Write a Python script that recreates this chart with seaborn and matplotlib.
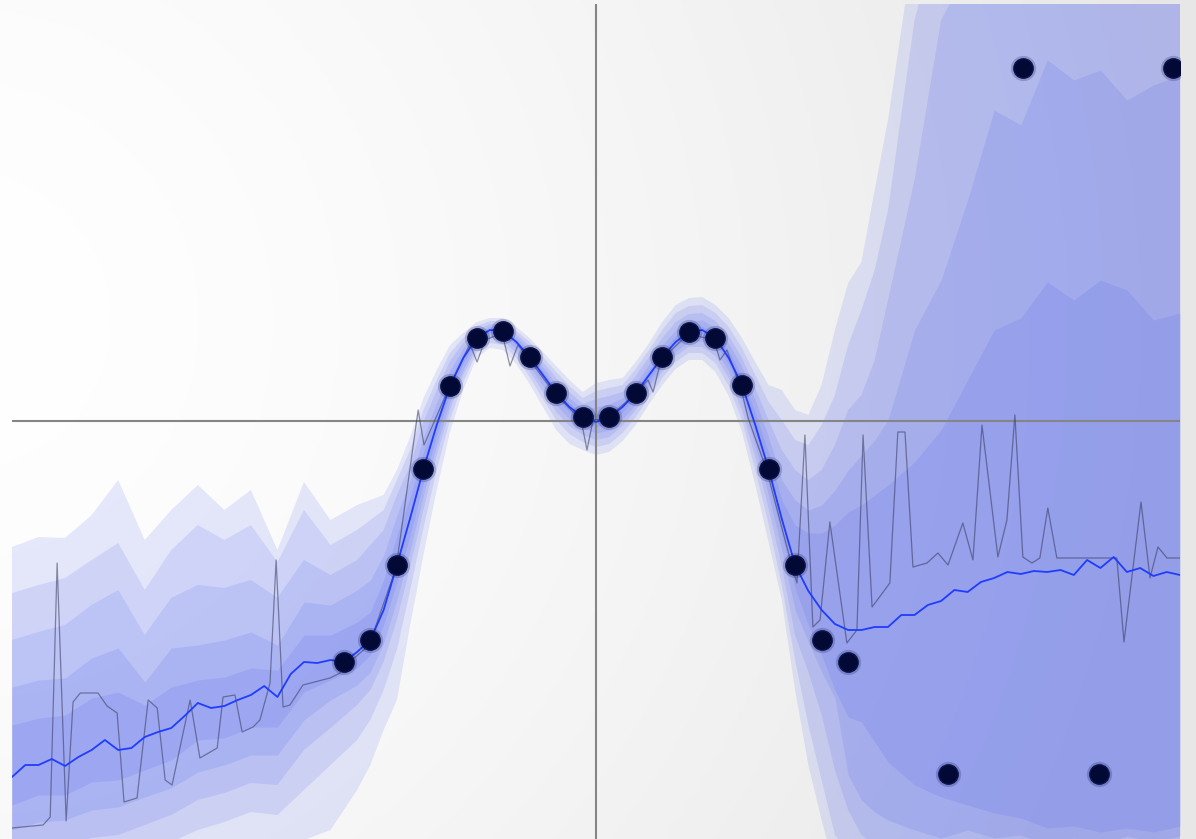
import numpy as np
import pandas as pd
import matplotlib
matplotlib.use("Agg")
import matplotlib.pyplot as plt
import seaborn as sns

# x positions of the band boundaries (coarse at the edges, finer in the middle)
band_x = list(range(-22, -8)) + [k / 2 for k in range(-17, 23)] + list(range(12, 23))

# quantile band boundaries, outermost (1) to innermost (5)
upper_1 = [-1.26, -1.16, -1.17, -0.94, -0.59, -1.19, -0.89, -0.64, -0.89, -0.69, -1.29, -0.61, -0.99, -0.84,
           -0.79, -0.74, -0.49, -0.16, 0.23, 0.51, 0.76, 0.88, 0.99, 1.03, 1.03, 0.94, 0.83, 0.69, 0.55, 0.41,
           0.29, 0.38, 0.41, 0.43, 0.59, 0.78, 0.99, 1.16, 1.23, 1.24, 1.16, 1.03, 0.83, 0.59, 0.36, 0.31,
           0.11, 0.06, 0.36, 0.91, 1.38, 1.59, 2.31, 3.01,
           4.81, 5.71, 6.21, 6.71, 6.81, 6.91, 7.01, 7.01, 7.11, 7.11, 7.21]
upper_2 = [-1.72, -1.64, -1.57, -1.39, -1.22, -1.69, -1.29, -1.04, -1.19, -1.04, -1.41, -0.89, -1.24, -1.09,
           -0.99, -0.89, -0.59, -0.29, 0.11, 0.41, 0.68, 0.83, 0.95, 1.00, 1.00, 0.90, 0.79, 0.64, 0.49, 0.35,
           0.23, 0.30, 0.33, 0.36, 0.52, 0.71, 0.91, 1.08, 1.15, 1.16, 1.08, 0.94, 0.73, 0.46, 0.19, 0.01,
           -0.19, -0.24, -0.04, 0.26, 0.76, 1.11, 1.51, 2.11,
           4.01, 5.01, 5.41, 5.81, 5.91, 6.01, 6.11, 6.11, 6.21, 6.21, 6.21]
upper_3 = [-2.19, -2.11, -2.04, -1.84, -1.69, -2.14, -1.77, -1.64, -1.67, -1.59, -1.77, -1.39, -1.54, -1.39,
           -1.24, -1.09, -0.74, -0.44, -0.01, 0.31, 0.60, 0.78, 0.91, 0.97, 0.97, 0.87, 0.75, 0.59, 0.43, 0.29,
           0.17, 0.22, 0.25, 0.29, 0.45, 0.64, 0.83, 0.99, 1.07, 1.08, 1.00, 0.85, 0.63, 0.33, 0.01, -0.29,
           -0.49, -0.59, -0.49, -0.24, 0.11, 0.26, 0.61, 1.21,
           2.41, 4.01, 4.51, 4.81, 4.91, 5.01, 5.11, 5.11, 5.21, 5.21, 5.21]
upper_4 = [-2.66, -2.59, -2.57, -2.37, -2.27, -2.61, -2.27, -2.24, -2.19, -2.11, -2.24, -1.81, -1.84, -1.69,
           -1.59, -1.34, -0.94, -0.59, -0.16, 0.19, 0.51, 0.73, 0.88, 0.95, 0.94, 0.84, 0.71, 0.54, 0.37, 0.23,
           0.12, 0.14, 0.17, 0.23, 0.38, 0.57, 0.76, 0.91, 1.00, 1.01, 0.93, 0.77, 0.54, 0.21, -0.16, -0.59,
           -0.79, -0.89, -0.84, -0.69, -0.49, -0.34, -0.19, 0.01,
           0.91, 1.41, 2.21, 3.11, 2.96, 3.61, 3.41, 3.51, 3.21, 3.36, 3.46]
upper_5 = [-3.04, -2.97, -2.94, -2.77, -2.71, -2.84, -2.66, -2.59, -2.56, -2.47, -2.49, -2.14, -2.14, -2.01,
           -1.91, -1.59, -1.14, -0.76, -0.31, 0.08, 0.43, 0.68, 0.85, 0.93, 0.92, 0.81, 0.67, 0.50, 0.32, 0.18,
           0.08, 0.07, 0.10, 0.18, 0.33, 0.51, 0.70, 0.85, 0.94, 0.95, 0.87, 0.70, 0.45, 0.08, -0.32, -0.79,
           -1.04, -1.12, -1.12, -1.04, -0.91, -0.84, -0.74, -0.64,
           -0.41, -0.09, 0.41, 0.91, 1.03, 1.39, 1.21, 1.41, 1.31, 1.01, 1.08]
lower_5 = [-3.84, -3.74, -3.74, -3.61, -3.59, -3.49, -3.39, -3.19, -3.17, -3.06, -3.06, -2.71, -2.59, -2.47,
           -2.34, -2.04, -1.61, -1.14, -0.62, -0.14, 0.27, 0.58, 0.80, 0.88, 0.87, 0.76, 0.60, 0.41, 0.23, 0.09,
           -0.01, -0.06, -0.02, 0.09, 0.23, 0.41, 0.59, 0.75, 0.84, 0.85, 0.77, 0.57, 0.28, -0.15, -0.61, -1.14,
           -1.67, -2.04, -2.34, -2.69, -2.96, -3.01, -3.21, -3.41,
           -3.64, -3.76, -3.84, -3.92, -3.97, -4.07, -4.05, -4.11, -4.07, -4.11, -4.05]
lower_4 = [-4.09, -4.01, -3.99, -3.89, -3.86, -3.76, -3.67, -3.51, -3.44, -3.34, -3.34, -2.99, -2.79, -2.64,
           -2.51, -2.22, -1.79, -1.29, -0.74, -0.24, 0.19, 0.52, 0.76, 0.85, 0.84, 0.72, 0.55, 0.35, 0.16, 0.02,
           -0.07, -0.12, -0.09, 0.02, 0.17, 0.36, 0.54, 0.70, 0.79, 0.80, 0.71, 0.50, 0.20, -0.25, -0.74, -1.29,
           -1.89, -2.21, -2.51, -2.77, -3.54, -3.79, -3.91, -3.99,
           -4.09, -4.17, -4.09, -4.17, -4.14, -4.24, -4.17, -4.24, -4.15, -4.21, -4.15]
lower_3 = [-4.37, -4.29, -4.27, -4.17, -4.14, -4.04, -3.94, -3.79, -3.72, -3.62, -3.64, -3.29, -3.07, -2.84,
           -2.69, -2.41, -1.99, -1.46, -0.89, -0.35, 0.11, 0.46, 0.72, 0.82, 0.80, 0.68, 0.50, 0.29, 0.09, -0.05,
           -0.14, -0.19, -0.16, -0.05, 0.11, 0.30, 0.49, 0.65, 0.74, 0.74, 0.65, 0.43, 0.11, -0.36, -0.87, -1.45,
           -2.14, -2.51, -2.94, -3.49, -3.89, -4.14, -4.24, -4.31,
           -4.37, -4.41, -4.39, -4.44, -4.44, -4.49, -4.47, -4.51, -4.49, -4.51, -4.49]
lower_2 = [-4.64, -4.57, -4.54, -4.45, -4.41, -4.31, -4.21, -4.09, -4.01, -3.91, -3.94, -3.69, -3.44, -3.19,
           -2.99, -2.69, -2.29, -1.69, -1.07, -0.49, 0.01, 0.39, 0.68, 0.78, 0.76, 0.63, 0.44, 0.22, 0.01, -0.13,
           -0.21, -0.26, -0.23, -0.12, 0.04, 0.24, 0.43, 0.59, 0.68, 0.68, 0.58, 0.35, 0.01, -0.49, -1.03, -1.64,
           -2.39, -3.04, -3.59, -4.14, -4.29, -4.44, -4.54, -4.64,
           -4.69, -4.74, -4.74, -4.79, -4.79, -4.84, -4.84, -4.84, -4.84, -4.84, -4.84]
lower_1 = [-4.94, -4.84, -4.81, -4.74, -4.69, -4.59, -4.49, -4.37, -4.29, -4.19, -4.27, -4.19, -4.09, -3.69,
           -3.44, -3.09, -2.79, -2.04, -1.34, -0.69, -0.11, 0.31, 0.63, 0.73, 0.71, 0.57, 0.37, 0.14, -0.09, -0.23,
           -0.29, -0.34, -0.31, -0.20, -0.04, 0.17, 0.36, 0.52, 0.61, 0.61, 0.49, 0.25, -0.11, -0.64, -1.21, -1.79,
           -2.69, -3.44, -3.99, -4.49, -4.59, -4.79, -4.89, -4.99,
           -5.04, -5.09, -5.09, -5.14, -5.14, -5.19, -5.19, -5.19, -5.19, -5.19, -5.19]

# posterior mean
mean_x = [k / 2 for k in range(-44, 45)]
mean_y = [-3.56, -3.44, -3.44, -3.38, -3.45, -3.36, -3.29, -3.19, -3.29, -3.27, -3.16, -3.11, -3.07, -2.95,
          -2.82, -2.87, -2.85, -2.79, -2.74, -2.65, -2.76, -2.53, -2.41, -2.42, -2.39, -2.41, -2.31, -2.19,
          -1.89, -1.44, -0.97, -0.48, -0.04, 0.35, 0.63, 0.83, 0.91, 0.90, 0.79, 0.64, 0.46, 0.28, 0.14, 0.04,
          -0.01,
          0.04, 0.14, 0.28, 0.46, 0.64, 0.79, 0.89, 0.91, 0.83, 0.63, 0.36, -0.04, -0.48, -0.98, -1.44, -1.70,
          -1.89, -2.03, -2.09, -2.09, -2.06, -2.06, -1.94, -1.94, -1.84, -1.80, -1.69, -1.71, -1.61, -1.57,
          -1.51, -1.53, -1.50, -1.51, -1.49, -1.54, -1.39, -1.47, -1.36, -1.51, -1.47, -1.55, -1.51, -1.54]

# single posterior sample (thin grey trace)
sample_x = [-22.0, -20.83, -20.56, -20.30, -19.96, -19.70, -19.43, -18.76, -18.42, -18.04, -17.78, -17.29,
            -16.87, -16.53, -16.23, -15.97, -15.29, -14.92, -14.27, -14.05, -13.60, -13.33, -12.92, -12.66,
            -12.28, -12.05, -11.79, -11.53, -11.04, -10.02, -9.64, -9.53, -8.55, -7.53, -6.70, -6.48, -5.54,
            -4.75, -4.48, -4.18, -3.54, -3.24, -2.94, -2.56, -1.54, -0.56, -0.34, -0.11, 0.41, 1.43, 1.96,
            2.15, 2.45, 3.47, 4.44, 4.67, 4.93, 5.46, 5.73, 6.44, 7.42, 7.57, 7.87, 8.17, 8.44, 8.81, 9.45,
            9.83, 10.06, 10.40, 11.07, 11.37, 11.64, 11.94, 12.47, 12.88, 13.26, 13.82, 14.20, 14.54, 15.14,
            15.48, 15.78, 16.08, 16.42, 16.72, 17.02, 17.36, 19.62, 19.89, 20.53, 20.87, 21.17, 21.51, 22.0]
sample_y = [-4.07, -4.04, -3.96, -1.42, -4.00, -2.81, -2.72, -2.72, -2.85, -2.92, -3.81, -3.77,
            -2.79, -2.87, -3.59, -3.64, -2.79, -3.37, -3.27, -2.76, -2.74, -3.11, -3.06, -2.99,
            -2.62, -1.39, -2.86, -2.84, -2.64, -2.57, -2.52, -2.47, -2.24, -1.47, 0.11, -0.24, 0.33,
            0.77, 0.59, 0.81, 0.88, 0.55, 0.76, 0.63, 0.27, 0.01, -0.29, 0.01, 0.02, 0.26, 0.41,
            0.29, 0.61, 0.87, 0.81, 0.61, 0.71, 0.33, 0.03, -0.50, -1.49, -1.62, -0.14, -2.06, -1.99, -1.01, -2.22,
            -2.09, -0.14, -1.86, -1.62, -0.11, -0.11, -1.46, -1.42, -1.32, -1.44, -1.02, -1.39, -0.04, -1.36,
            -0.99, 0.06, -1.36, -1.42, -1.37, -0.87, -1.37, -1.37, -2.21, -0.81, -1.57, -1.26, -1.37, -1.37]

# observations
obs_x = [-9.5, -8.5, -7.5, -6.5, -5.5, -4.5, -3.5, -2.5, -1.5, -0.5,
         0.5, 1.5, 2.5, 3.5, 4.5, 5.5, 6.5, 7.5, 8.5, 9.5,
         13.26, 18.95, 16.08, 21.73]
obs_y = [-2.41, -2.19, -1.44, -0.48, 0.35, 0.83, 0.90, 0.64, 0.28, 0.04,
         0.04, 0.28, 0.64, 0.89, 0.83, 0.36, -0.48, -1.44, -2.19, -2.41,
         -3.53, -3.53, 3.53, 3.53]

sns.set_style("white")

fig = plt.figure(figsize=(11.96, 8.39), dpi=100)

# soft radial background, whitest towards the left
bg = fig.add_axes([0, 0, 1, 1])
bg.axis("off")
yy, xx = np.mgrid[0:839, 0:1196]
d = np.clip(np.hypot(xx + 40, yy - 320) / 1250, 0, 1)
shade = (255 - 24 * d ** 1.5) / 255
bg.imshow(np.dstack([shade, shade, shade]), aspect="auto", extent=[0, 1, 0, 1], zorder=-10)

ax = fig.add_axes([12 / 1196, 0, 1168 / 1196, 835 / 839])
ax.patch.set_alpha(0)

bands = [(upper_1, lower_1), (upper_2, lower_2), (upper_3, lower_3), (upper_4, lower_4), (upper_5, lower_5)]
for up, lo in bands:
    ax.fill_between(band_x, lo, up, color="#3c50eb", alpha=0.12, linewidth=0, zorder=1)

ax.axhline(0, color="#858585", lw=1.5, zorder=2)
ax.axvline(0, color="#858585", lw=1.5, zorder=2)

sample_df = pd.DataFrame({"x": sample_x, "y": sample_y})
sns.lineplot(data=sample_df, x="x", y="y", estimator=None, sort=False, color="#34385a",
             alpha=0.55, lw=0.9, ax=ax, zorder=3)

mean_df = pd.DataFrame({"x": mean_x, "y": mean_y})
sns.lineplot(data=mean_df, x="x", y="y", estimator=None, sort=False, color="#1f3dff",
             lw=1.3, ax=ax, zorder=4)

obs_df = pd.DataFrame({"x": obs_x, "y": obs_y})
sns.scatterplot(data=obs_df, x="x", y="y", s=330, color="#0a1450", alpha=0.22,
                linewidth=0, ax=ax, zorder=5)
sns.scatterplot(data=obs_df, x="x", y="y", s=195, color="#020935", edgecolor="#0c1450",
                linewidth=1, ax=ax, zorder=6)

ax.set_xlim(-22, 22)
ax.set_ylim(-4.18, 4.17)
ax.axis("off")

fig.savefig("out.png", dpi=100)
